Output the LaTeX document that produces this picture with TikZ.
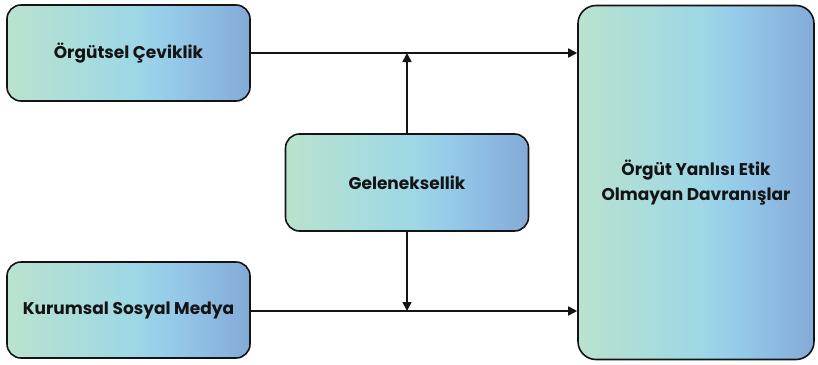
\documentclass[tikz,border=0pt]{standalone}
\usepackage{fontspec}
\setmainfont{Poppins}
\usetikzlibrary{arrows.meta}
\definecolor{gA}{RGB}{186,226,206}
\definecolor{gB}{RGB}{157,216,230}
\definecolor{gD}{RGB}{150,204,234}
\definecolor{gC}{RGB}{132,170,216}
\definecolor{ink}{RGB}{20,20,20}
\pgfdeclarehorizontalshading{gshade}{100bp}{color(0bp)=(gA); color(25bp)=(gA); color(51bp)=(gB); color(58bp)=(gD); color(75bp)=(gC); color(100bp)=(gC)}
\tikzset{
  gbox/.style={draw=ink, line width=1.6pt, rounded corners=14pt, shading=gshade,
    font=\fontsize{17}{25}\selectfont\bfseries, text=ink, align=center, inner sep=0pt},
  conn/.style={draw=ink, line width=1.6pt, -{Triangle[length=9pt,width=9pt]}}
}
\begin{document}
\begin{tikzpicture}[x=1pt,y=1pt]
\useasboundingbox (0,0) rectangle (818,-364);
\node[gbox, minimum width=243pt, minimum height=96pt] (b1) at (128.5,-53) {Örgütsel Çeviklik};
\node[gbox, minimum width=243pt, minimum height=96pt] (b2) at (128.5,-310) {Kurumsal Sosyal Medya};
\node[gbox, minimum width=243pt, minimum height=97pt] (g) at (407,-182.5) {Geleneksellik};
\node[gbox, rounded corners=18pt, minimum width=236pt, minimum height=354pt] (r) at (696,-182.5) {\raisebox{-2pt}{\begin{tabular}{@{}c@{}}Örgüt Yanlısı Etik\\Olmayan Davranışlar\end{tabular}}};
\draw[conn] (b1.east) -- (b1.east -| r.west);
\draw[conn] ([yshift=-1pt]b2.east) -- ([yshift=-1pt]b2.east -| r.west);
\draw[conn] (g.north) -- (g.north |- b1.east);
\draw[conn] (g.south) -- ([yshift=-1pt]g.south |- b2.east);
\end{tikzpicture}
\end{document}
